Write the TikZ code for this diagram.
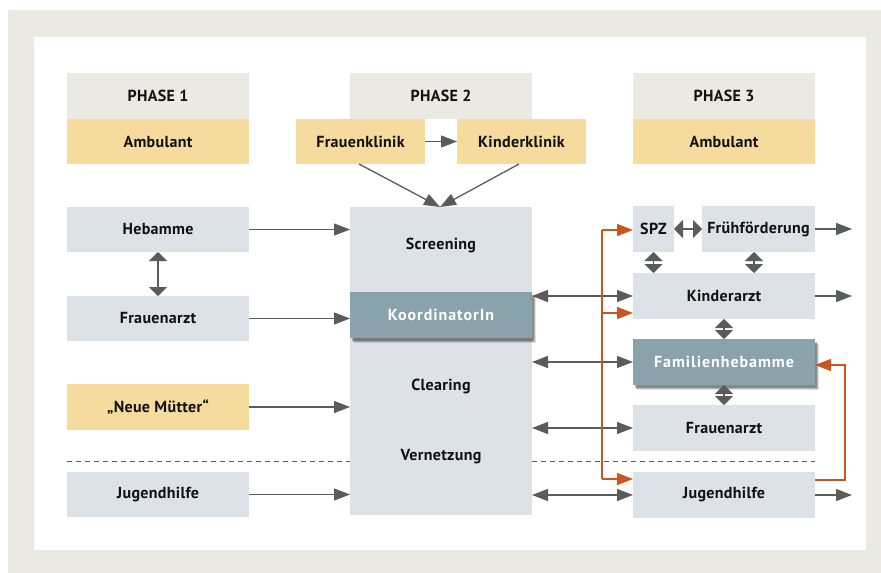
\documentclass[tikz,border=0pt]{standalone}
\usepackage{fontspec}
\setmainfont{PT Sans}[LetterSpace=2]
\usetikzlibrary{arrows.meta,shadows,calc}
\definecolor{bgbeige}{HTML}{EBEAE2}
\definecolor{hdr}{HTML}{EBEAE2}
\definecolor{ylw}{HTML}{F5DC9E}
\definecolor{lbox}{HTML}{DCE2E7}
\definecolor{dbox}{HTML}{8AA2AC}
\definecolor{agray}{HTML}{5A5B5B}
\definecolor{orng}{HTML}{C9561F}
\definecolor{txt}{HTML}{111111}
\tikzset{
  bx/.style={inner sep=0pt, outer sep=0pt, font=\bfseries\fontsize{16}{18}\selectfont, text=txt},
  hdrbox/.style={bx, fill=hdr},
  ylwbox/.style={bx, fill=ylw},
  lbbox/.style={bx, fill=lbox},
  dkbox/.style={bx, fill=dbox, text=white, font=\bfseries\fontsize{16}{18}\selectfont\addfontfeatures{LetterSpace=6},
    drop shadow={shadow xshift=4pt, shadow yshift=-4.5pt, fill=black, opacity=0.12},
    drop shadow={shadow xshift=3pt, shadow yshift=-3.5pt, fill=black, opacity=0.18},
    drop shadow={shadow xshift=2pt, shadow yshift=-2.5pt, fill=black, opacity=0.25}},
  lbl/.style={inner sep=0pt, font=\bfseries\fontsize{16}{18}\selectfont, text=txt},
  arr/.style={draw=agray, line width=1.3pt, -{Triangle[length=16pt,width=12pt]}},
  darr/.style={draw=agray, line width=1.3pt, {Triangle[length=16pt,width=12pt]}-{Triangle[length=16pt,width=12pt]}},
  sarr/.style={draw=agray, line width=1.3pt, {Triangle[length=9pt,width=18pt]}-{Triangle[length=9pt,width=18pt]}},
  oarr/.style={draw=orng, line width=1.3pt, -{Triangle[length=16pt,width=12pt]}},
  oline/.style={draw=orng, line width=1.3pt},
  dline/.style={draw=agray, line width=0.9pt, dash pattern=on 5pt off 4pt},
}
% box macro: name, style, x1, y1, x2, y2, text
\newcommand{\pbox}[7]{%
  \pgfmathsetmacro{\bw}{#5-#3}\pgfmathsetmacro{\bh}{#6-#4}%
  \node[#2, minimum width=\bw pt, minimum height=\bh pt, anchor=north west] (#1) at (#3,#4) {#7};}
\begin{document}
\begin{tikzpicture}[x=1pt,y=-1pt]
\useasboundingbox (0,0) rectangle (881,573);
\fill[bgbeige] (8,10) rectangle (881,573);
\fill[white] (34,37) rectangle (866,550);

% Headers
\pbox{ph1}{hdrbox}{67}{73}{249}{119}{PHASE 1}
\pbox{amb1}{ylwbox}{67}{119}{249}{164}{Ambulant}
\pbox{ph2}{hdrbox}{350}{73}{532}{119}{PHASE 2}
\pbox{fk}{ylwbox}{296}{119}{425}{164}{Frauenklinik}
\pbox{kk}{ylwbox}{457}{119}{586}{164}{Kinderklinik}
\pbox{ph3}{hdrbox}{633}{73}{815}{119}{PHASE 3}
\pbox{amb3}{ylwbox}{633}{119}{815}{164}{Ambulant}

% Left column
\pbox{heb}{lbbox}{67}{207}{249}{252}{Hebamme}
\pbox{fa1}{lbbox}{67}{296}{249}{341}{Frauenarzt}
\pbox{nm}{ylwbox}{67}{384}{249}{430}{„Neue Mütter“}
\pbox{jh1}{lbbox}{67}{472}{249}{517}{Jugendhilfe}

% Center
\pbox{center}{lbbox}{350}{207}{532}{515}{}
\node[lbl] (scr) at (441,245) {Screening};
\node[lbl] (clr) at (441,386) {Clearing};
\node[lbl] (ver) at (441,457) {Vernetzung};
\pbox{koord}{dkbox}{350}{292}{532}{338}{KoordinatorIn}

% Right column
\pbox{spz}{lbbox}{633}{206}{674}{252}{SPZ}
\pbox{ff}{lbbox}{702}{206}{815}{252}{Frühförderung}
\pbox{ka}{lbbox}{633}{273}{815}{319}{Kinderarzt}
\pbox{fh}{dkbox}{633}{339}{815}{385}{Familienhebamme}
\pbox{fa3}{lbbox}{633}{405}{815}{451}{Frauenarzt}
\pbox{jh3}{lbbox}{633}{472}{815}{518}{Jugendhilfe}

% dashed separators
\coordinate (dl1) at (67,461);
\coordinate (dr2) at (815,461);
\draw[dline] (dl1) -- (dl1 -| center.west);
\draw[dline] (dr2 -| center.east) -- (dr2);

% Phase 2 arrows
\coordinate (fkb) at (359,164);
\coordinate (kkb) at (519,164);
\coordinate (ctop) at (440,207);
\draw[arr] (fk.east) -- (kk.west);
\draw[arr] (fkb) -- (ctop);
\draw[arr] (kkb) -- (ctop);

% Left arrows
\draw[arr] (heb.east) -- (heb.east -| center.west);
\draw[sarr] (heb.south) -- (fa1.north);
\draw[arr] (fa1.east) -- (fa1.east -| koord.west);
\draw[arr] (nm.east) -- (nm.east -| center.west);
\draw[arr] (jh1.east) -- (jh1.east -| center.west);

% Center <-> right
\draw[darr] (ka.west -| center.east) -- (ka.west);
\draw[darr] (fh.west -| center.east) -- (fh.west);
\draw[darr] (fa3.west -| center.east) -- (fa3.west);
\draw[darr] (jh3.west -| center.east) -- (jh3.west);

% Right internal
\coordinate (ffs) at (754,252);
\draw[sarr] (spz.east) -- (ff.west);
\draw[sarr] (spz.south) -- (spz.south |- ka.north);
\draw[sarr] (ffs) -- (ffs |- ka.north);
\draw[sarr] (ka.south) -- (fh.north);
\draw[sarr] (fh.south) -- (fa3.north);

% Outgoing
\coordinate (out1) at (852,229);
\coordinate (out2) at (852,296);
\coordinate (out3) at (852,495);
\draw[arr] (ff.east) -- (ff.east -| out1);
\draw[arr] (ka.east) -- (ka.east -| out2);
\draw[arr] (jh3.east) -- (jh3.east -| out3);

% Orange
\coordinate (o1) at (602,230);
\coordinate (o2) at (602,313);
\coordinate (o3) at (602,479);
\coordinate (o4) at (815,480);
\coordinate (o5) at (845,480);
\coordinate (o6) at (845,365);
\draw[oline] (o1) -- (o3);
\draw[oarr] (o1) -- (o1 -| spz.west);
\draw[oarr] (o2) -- (o2 -| ka.west);
\draw[oarr] (o3) -- (o3 -| jh3.west);
\draw[oarr] (o4) -- (o5) -- (o6) -- (o6 -| fh.east);
\end{tikzpicture}
\end{document}
